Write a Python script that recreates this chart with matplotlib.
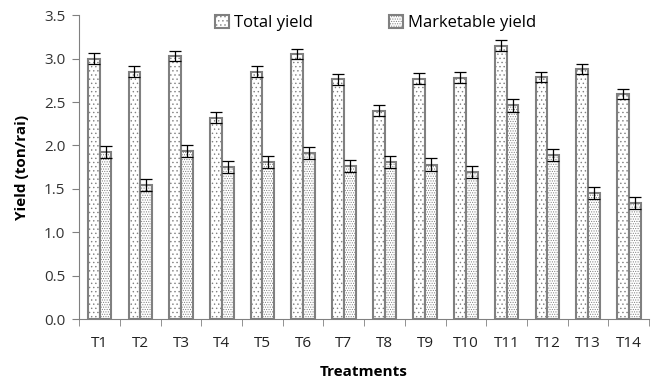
import matplotlib.pyplot as plt
import numpy as np
import matplotlib as mpl

mpl.rcParams['hatch.color'] = '#b4b4b4'
mpl.rcParams['hatch.linewidth'] = 0.5
plt.rcParams['font.family'] = ['Open Sans', 'DejaVu Sans']

treatments = ['T1', 'T2', 'T3', 'T4', 'T5', 'T6', 'T7', 'T8', 'T9', 'T10', 'T11', 'T12', 'T13', 'T14']
total_yield = [3.00, 2.85, 3.03, 2.32, 2.85, 3.05, 2.76, 2.40, 2.77, 2.78, 3.15, 2.79, 2.88, 2.59]
marketable_yield = [1.92, 1.54, 1.94, 1.75, 1.81, 1.91, 1.76, 1.81, 1.78, 1.69, 2.46, 1.89, 1.45, 1.34]
total_err = [0.06] * 14
market_err = [0.07] * 14

fig = plt.figure(figsize=(6.55, 3.79), dpi=100)
ax = fig.add_axes([0.121, 0.158, 0.870, 0.802])

x = np.arange(len(treatments))
w = 0.29
edge = '#808080'
ax.bar(x - w/2, total_yield, w, color='white', edgecolor=edge, linewidth=1.5,
       hatch='....', label='Total yield', zorder=2)
ax.bar(x + w/2, marketable_yield, w, color='white', edgecolor=edge, linewidth=1.5,
       hatch='.......', label='Marketable yield', zorder=2)
ax.errorbar(x - w/2, total_yield, yerr=total_err, fmt='none', ecolor='black',
            elinewidth=0.9, capsize=4, capthick=0.9, zorder=3)
ax.errorbar(x + w/2, marketable_yield, yerr=market_err, fmt='none', ecolor='black',
            elinewidth=0.9, capsize=4, capthick=0.9, zorder=3)

ax.set_xlim(-0.5, len(treatments) - 0.5)
ax.set_ylim(0, 3.5)
ax.set_yticks(np.arange(0, 3.51, 0.5))
ax.set_yticklabels([f'{v:.1f}' for v in np.arange(0, 3.51, 0.5)], fontsize=11, color='#333333')
ax.set_xticks(x)
ax.set_xticklabels(treatments, fontsize=11, color='#222222')
ax.set_xticks(np.arange(-0.5, len(treatments), 1), minor=True)
ax.tick_params(axis='x', which='major', length=0, pad=12)
ax.tick_params(axis='x', which='minor', length=5, color=edge, direction='out')
ax.tick_params(axis='y', length=5, color=edge, direction='out', pad=5)

for s in ['top', 'right']:
    ax.spines[s].set_visible(False)
ax.spines['left'].set_color(edge)
ax.spines['bottom'].set_color(edge)

ax.set_ylabel('Yield (ton/rai)', fontsize=11, fontweight='bold', labelpad=11)
ax.set_xlabel('Treatments', fontsize=11, fontweight='bold', labelpad=10)

leg = ax.legend(loc='upper center', bbox_to_anchor=(0.52, 1.05), ncol=2, frameon=False,
                fontsize=12, handlelength=0.8, handleheight=0.8, handletextpad=0.3,
                columnspacing=4.6)

fig.savefig('out.png', dpi=100)
